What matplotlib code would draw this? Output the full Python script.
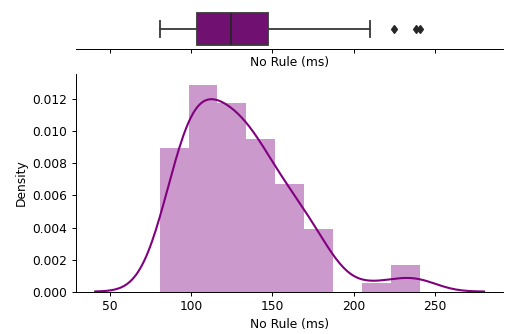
import numpy as np
import matplotlib
matplotlib.use("Agg")
import matplotlib.pyplot as plt

# Response times without a rule (ms), sorted
no_rule_ms = [
    80.6, 83.0, 85.0, 87.0, 88.0, 89.5, 90.5, 91.5, 92.5, 93.5, 94.5, 95.5, 96.0, 96.8, 97.5, 98.1,
    98.8, 99.5, 100.2, 100.8, 101.5, 102.1, 102.7, 103.2, 103.6, 103.9, 104.8, 105.8, 106.7, 107.6,
    108.5, 109.4, 110.3, 111.2, 112.1, 113.0, 113.9, 114.8, 115.7,
    116.8, 117.6, 118.4, 119.2, 120.0, 120.8, 121.6, 122.4, 123.2, 124.0, 124.3, 124.7, 125.5,
    126.5, 127.5, 128.5, 129.5, 130.5, 131.5, 132.5, 133.4,
    134.6, 135.5, 136.4, 137.3, 138.2, 139.1, 140.0, 140.9, 141.8, 142.7, 143.6, 144.5, 145.4,
    146.3, 147.2, 148.2, 150.4,
    152.5, 154.0, 155.5, 157.0, 158.5, 160.0, 161.5, 163.0, 164.5, 166.0, 167.5, 169.0,
    171.0, 173.5, 176.0, 178.5, 181.0, 183.5, 186.5,
    209.9, 225.2, 238.5, 240.7,
]
x_label = "No Rule (ms)"
y_label = "Density"
n_bins = 9

data = np.asarray(no_rule_ms)
color = "purple"
box_face = "#701070"
line_gray = "#3a3a3a"

dpi = 88
fig = plt.figure(figsize=(505 / dpi, 334 / dpi), dpi=dpi)
ax_box = fig.add_axes([0.150, 0.853, 0.847, 0.121])
ax_hist = fig.add_axes([0.150, 0.127, 0.847, 0.651], sharex=ax_box)

# Box plot on top
ax_box.boxplot(
    data, vert=False, widths=0.8, patch_artist=True, positions=[0],
    boxprops=dict(facecolor=box_face, edgecolor=line_gray, linewidth=1.5),
    medianprops=dict(color="#262626", linewidth=1.5),
    whiskerprops=dict(color=line_gray, linewidth=1.5),
    capprops=dict(color=line_gray, linewidth=1.5),
    flierprops=dict(marker="d", markerfacecolor="#262626", markeredgecolor="#262626",
                    markersize=5, linestyle="none"),
)
ax_box.set_ylim(0.5, -0.5)
ax_box.set_yticks([])
for side in ("left", "top", "right"):
    ax_box.spines[side].set_visible(False)
ax_box.tick_params(axis="x", labelbottom=False)
ax_box.set_xlabel(x_label, labelpad=2)

# Histogram with a Gaussian KDE
ax_hist.hist(data, bins=n_bins, density=True, color=color, alpha=0.4)
bw = data.std(ddof=1) * len(data) ** (-1 / 5)
grid = np.linspace(data.min() - 3 * bw, data.max() + 3 * bw, 200)
kde = np.exp(-0.5 * ((grid[:, None] - data[None, :]) / bw) ** 2).sum(axis=1)
kde /= len(data) * bw * np.sqrt(2 * np.pi)
ax_hist.plot(grid, kde, color=color, linewidth=1.7)
ax_hist.set_xlabel(x_label)
ax_hist.set_ylabel(y_label)
ax_hist.yaxis.set_major_formatter(matplotlib.ticker.FormatStrFormatter("%.3f"))
ax_hist.set_yticks(np.arange(0, 0.0121, 0.002))
ax_hist.set_xticks([50, 100, 150, 200, 250])
for side in ("top", "right"):
    ax_hist.spines[side].set_visible(False)

fig.savefig("out.png", dpi=dpi)
